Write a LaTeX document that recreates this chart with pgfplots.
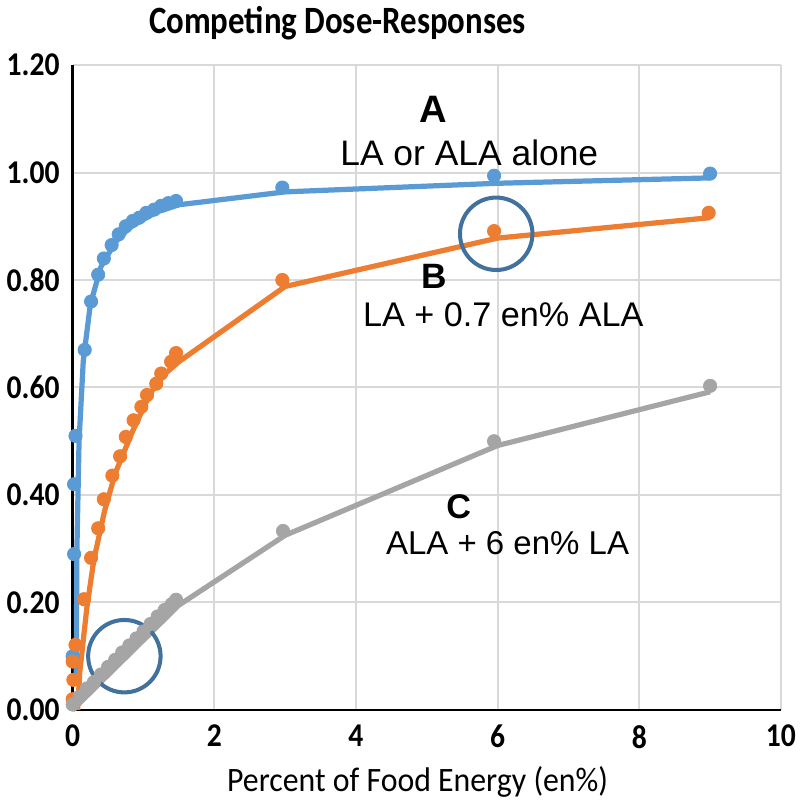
\documentclass[border=0pt]{standalone}
\usepackage{pgfplots}
\pgfplotsset{compat=1.18}
\usepackage{fontspec}
\setmainfont{Carlito}
\newfontfamily\arial{Liberation Sans}
\newfontfamily\titlefont[FakeStretch=0.85]{Carlito}
\newfontfamily\tickfont[FakeStretch=0.89]{Carlito}
\newfontfamily\labelfont[FakeStretch=0.93]{Carlito}

\definecolor{serA}{HTML}{5B9BD5}
\definecolor{serB}{HTML}{ED7D31}
\definecolor{serC}{HTML}{A5A5A5}
\definecolor{gridc}{HTML}{D9D9D9}
\definecolor{ringc}{HTML}{41719C}

\begin{document}
\begin{tikzpicture}
\begin{axis}[
  scale only axis, width=352pt, height=320.5pt,
  xmin=0, xmax=10, ymin=0, ymax=1.2,
  xtick={0,2,4,6,8,10}, ytick={0,0.2,0.4,0.6,0.8,1.0,1.2},
  axis x line*=bottom, axis y line*=left,
  axis line style={line width=1.2pt, -},
  grid=major, grid style={draw=gridc, line width=1pt},
  major tick length=0pt,
  /pgf/number format/assume math mode=true,
  tick label style={font=\tickfont\bfseries\fontsize{16.5}{19}\selectfont},
  yticklabel style={xshift=-3pt, /pgf/number format/fixed,
    /pgf/number format/fixed zerofill, /pgf/number format/precision=2},
  xticklabel style={yshift=-4pt},
  clip=false,
]
% A: LA or ALA alone
\addplot[only marks, mark=*, mark size=3.3pt, color=serA] coordinates {
 (0.0,0.10) (0.02,0.29) (0.02,0.42) (0.04,0.51) (0.17,0.67) (0.26,0.76)
 (0.36,0.81) (0.44,0.84) (0.55,0.865) (0.65,0.885) (0.75,0.90) (0.85,0.91)
 (0.94,0.916) (1.04,0.925) (1.15,0.931) (1.25,0.938) (1.35,0.943) (1.46,0.947)
 (2.96,0.972) (5.95,0.994) (9.0,0.998)};
\addplot[line width=2.6pt, color=serA] coordinates {
 (0.05,0.06) (0.06,0.30) (0.09,0.50) (0.15,0.65) (0.25,0.755) (0.4,0.825)
 (0.6,0.870) (0.8,0.897) (1.0,0.913) (1.2,0.927) (1.5,0.940)
 (3,0.964) (6,0.980) (9,0.990)};
% B: LA + 0.7 en% ALA
\addplot[only marks, mark=*, mark size=3.3pt, color=serB] coordinates {
 (0.0,0.02) (0.01,0.056) (0.0,0.09) (0.04,0.121) (0.16,0.206) (0.26,0.283)
 (0.36,0.338) (0.44,0.392) (0.56,0.436) (0.67,0.472) (0.75,0.508) (0.86,0.539)
 (0.97,0.564) (1.05,0.586) (1.18,0.607) (1.25,0.626) (1.39,0.648) (1.46,0.664)
 (2.96,0.80) (5.95,0.891) (8.98,0.925)};
\addplot[line width=2.6pt, color=serB] coordinates {
 (0.07,0.0) (0.1,0.07) (0.2,0.19) (0.3,0.28) (0.45,0.37) (0.6,0.44)
 (0.85,0.52) (1.1,0.59) (1.3,0.625) (1.5,0.648)
 (3,0.788) (6,0.878) (9,0.916)};
% C: ALA + 6 en% LA
\addplot[only marks, mark=*, mark size=3.3pt, color=serC] coordinates {
 (0.0,0.01) (0.1,0.025) (0.2,0.04) (0.3,0.052) (0.4,0.066) (0.5,0.08)
 (0.6,0.093) (0.7,0.107) (0.8,0.12) (0.9,0.133) (1.0,0.146) (1.1,0.16)
 (1.2,0.174) (1.3,0.186) (1.4,0.197) (1.46,0.205)
 (2.97,0.333) (5.95,0.50) (9.0,0.603)};
\addplot[line width=2.6pt, color=serC] coordinates {
 (0.0,0.0) (1.5,0.195) (3,0.325) (6,0.492) (9,0.592)};

% rings
\draw[ringc, line width=2pt] (axis cs:5.98,0.886) circle[radius=18pt];
\draw[ringc, line width=2pt] (axis cs:0.73,0.10) circle[radius=18pt];

% annotations
\node[anchor=base, font=\arial\bfseries\fontsize{19}{22}\selectfont] at (axis cs:5.09,1.093) {A};
\node[anchor=base, font=\arial\fontsize{17.6}{20}\selectfont] at (axis cs:5.60,1.013) {LA or ALA alone};
\node[anchor=base, font=\arial\bfseries\fontsize{17.5}{20}\selectfont] at (axis cs:5.11,0.785) {B};
\node[anchor=base, font=\arial\fontsize{17}{20}\selectfont] at (axis cs:6.08,0.714) {LA + 0.7 en\% ALA};
\node[anchor=base, font=\arial\bfseries\fontsize{17}{20}\selectfont] at (axis cs:5.45,0.357) {C};
\node[anchor=base, font=\arial\fontsize{16.4}{19}\selectfont] at (axis cs:6.14,0.29) {ALA + 6 en\% LA};

% title and axis label
\node[anchor=base, font=\titlefont\bfseries\fontsize{19.2}{22}\selectfont] at ([yshift=15.5pt]rel axis cs:0.374,1) {Competing Dose-Responses};
\node[anchor=base, font=\labelfont\fontsize{17}{20}\selectfont] at ([yshift=-40.5pt]rel axis cs:0.487,0) {Percent of Food Energy (en\%)};
\end{axis}
\end{tikzpicture}
\end{document}
